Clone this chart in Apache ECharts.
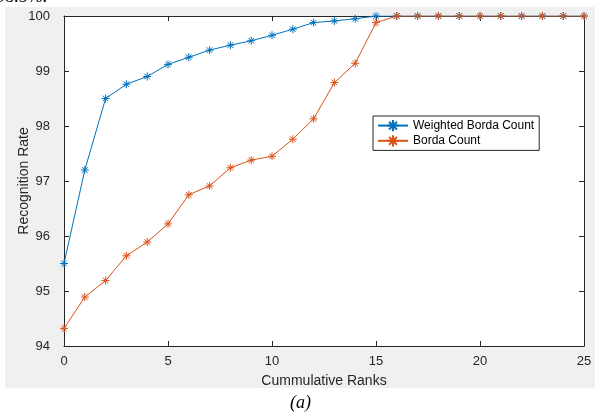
<!DOCTYPE html>
<html>
<head>
<meta charset="utf-8">
<script src="https://cdn.jsdelivr.net/npm/echarts@6/dist/echarts.min.js"></script>
<style>html,body{margin:0;padding:0;background:#fff;}#c{width:595px;height:412px;}</style>
</head>
<body>
<div id="c"></div>
<script>
var ranks = [0,1,2,3,4,5,6,7,8,9,10,11,12,13,14,15,16,17,18,19,20,21,22,23,24,25];
var weightedBorda = [95.50,97.20,98.50,98.76,98.90,99.12,99.25,99.38,99.47,99.55,99.65,99.76,99.88,99.91,99.95,100,100,100,100,100,100,100,100,100,100,100];
var borda = [94.32,94.89,95.19,95.64,95.89,96.22,96.75,96.91,97.24,97.38,97.45,97.76,98.13,98.79,99.14,99.88,100,100,100,100,100,100,100,100,100,100];
var xTicks = [0,5,10,15,20,25];
var yTicks = [94,95,96,97,98,99,100];

var star = 'path://M0,-5L0,5M-5,0L5,0M-3.5,-3.5L3.5,3.5M-3.5,3.5L3.5,-3.5';
var axisColor = '#262626';
var font = '"Liberation Sans", Arial, sans-serif';

function pairs(v){ return ranks.map(function(r,i){ return [r, v[i]]; }); }

var chart = echarts.init(document.getElementById('c'), null, {renderer:'canvas'});
var baseX = {
  type:'value', min:0, max:25, interval:5,
  axisLine:{show:true, onZero:false, lineStyle:{color:axisColor, width:1}},
  axisTick:{show:true, inside:true, length:5, lineStyle:{color:axisColor}},
  splitLine:{show:false}
};
var baseY = {
  type:'value', min:94, max:100, interval:1,
  axisLine:{show:true, onZero:false, lineStyle:{color:axisColor, width:1}},
  axisTick:{show:true, inside:true, length:5, lineStyle:{color:axisColor}},
  splitLine:{show:false}
};
chart.setOption({
  animation:false,
  backgroundColor:'#ffffff',
  graphic:[
    {type:'rect', z:-10, shape:{x:5,y:7,width:590,height:381}, style:{fill:'#f0f0f0'}},
    {type:'text', left:-4, top:-12, style:{text:'98.5%.', font:'18px "Liberation Serif", serif', fill:'#000'}},
    {type:'text', left:290, top:394, style:{text:'(a)', font:'italic 18px "Liberation Serif", serif', fill:'#000'}}
  ],
  grid:{left:64, top:16, right:11, bottom:66, show:true, backgroundColor:'#ffffff', borderWidth:0},
  legend:{
    orient:'vertical', left:373, top:116,
    backgroundColor:'#ffffff', borderColor:axisColor, borderWidth:1,
    padding:[3,5,3,4], itemGap:2, itemWidth:30, itemHeight:14,
    textStyle:{fontFamily:font, fontSize:12, color:'#000'},
    data:['Weighted Borda Count','Borda Count']
  },
  xAxis:[
    Object.assign({}, baseX, {position:'bottom',
      name:'Cummulative Ranks', nameLocation:'middle', nameGap:28,
      nameTextStyle:{fontFamily:font, fontSize:14, color:axisColor},
      axisLabel:{show:true, margin:9, fontFamily:font, fontSize:13, color:axisColor,
        formatter:function(v){ return xTicks.indexOf(v) >= 0 ? String(v) : ''; }}}),
    Object.assign({}, baseX, {position:'top', axisLabel:{show:false}})
  ],
  yAxis:[
    Object.assign({}, baseY, {position:'left',
      name:'Recognition Rate', nameLocation:'middle', nameGap:33, nameMoveOverlap:false,
      nameTextStyle:{fontFamily:font, fontSize:14, color:axisColor},
      axisLabel:{show:true, margin:14, fontFamily:font, fontSize:13, color:axisColor,
        formatter:function(v){ return yTicks.indexOf(v) >= 0 ? String(v) : ''; }}}),
    Object.assign({}, baseY, {position:'right', axisLabel:{show:false}})
  ],
  series:[
    {name:'Weighted Borda Count', type:'line', data:pairs(weightedBorda),
      symbol:star, symbolSize:8, showAllSymbol:true,
      lineStyle:{color:'#0072BD', width:1},
      itemStyle:{color:'#0072BD', borderColor:'#0072BD', borderWidth:1}},
    {name:'Borda Count', type:'line', data:pairs(borda),
      symbol:star, symbolSize:8, showAllSymbol:true,
      lineStyle:{color:'#D95319', width:1},
      itemStyle:{color:'#D95319', borderColor:'#D95319', borderWidth:1}}
  ]
});
</script>
</body>
</html>
